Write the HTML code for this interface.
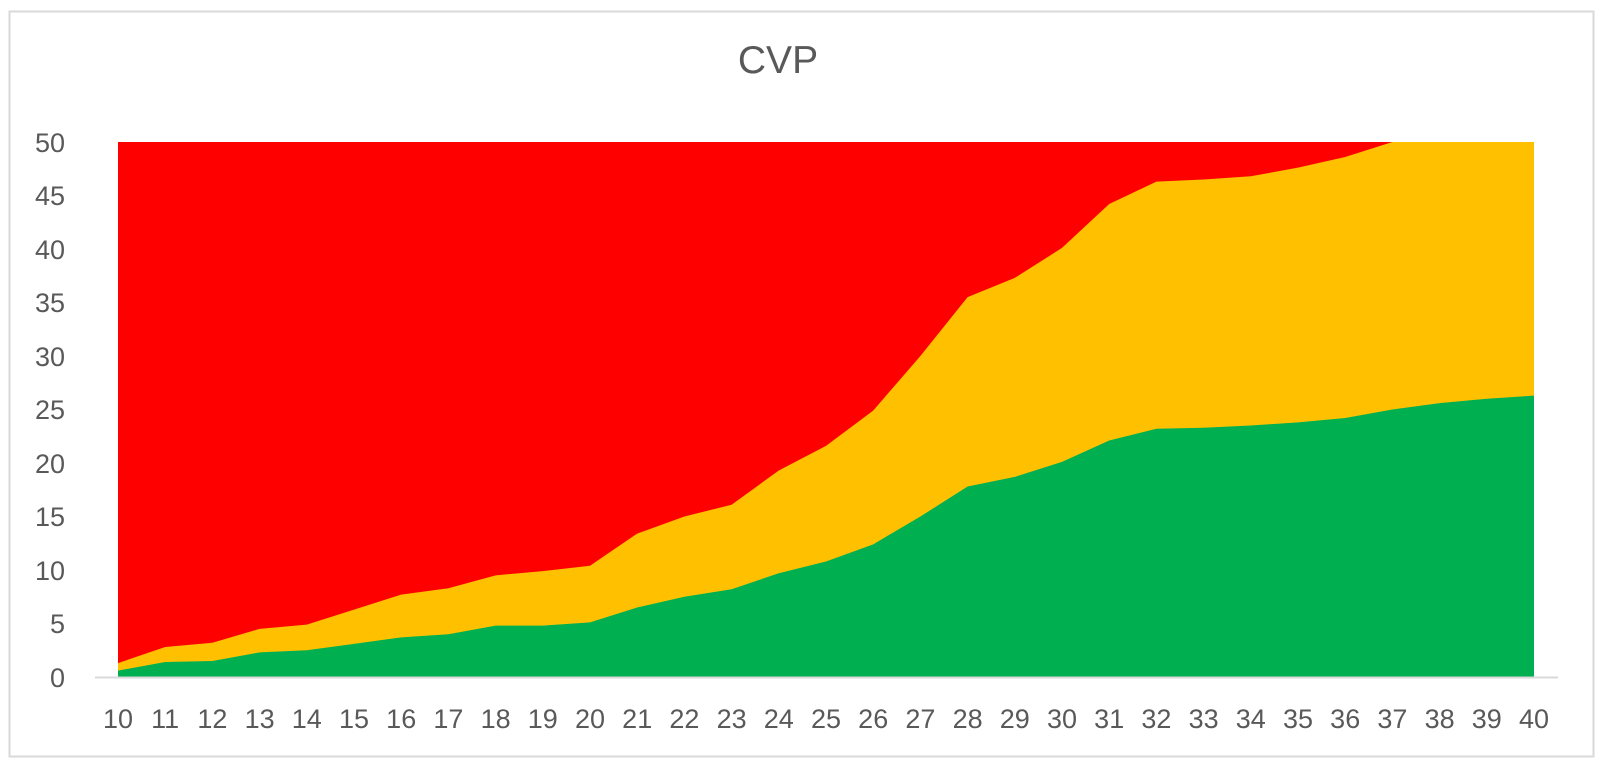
<!DOCTYPE html>
<html><head><meta charset="utf-8"><style>
html,body{margin:0;padding:0;background:#fff;}
svg{display:block;}
text{font-family:"Liberation Sans",sans-serif;}
</style></head><body>
<svg width="1602" height="767" viewBox="0 0 1602 767" xmlns="http://www.w3.org/2000/svg">
<rect x="9.5" y="11.5" width="1584" height="745" fill="#fff" stroke="#d9d9d9" stroke-width="2"/>
<text x="778" y="73" font-size="39" fill="#595959" text-anchor="middle">CVP</text>
<g transform="translate(118,677) scale(47.2,-10.7)">
<rect x="0" y="0" width="30" height="50" fill="#ff0000"/>
<polygon fill="#ffc000" points="0,0 0,1.3 1,2.8 2,3.2 3,4.5 4,4.9 5,6.3 6,7.7 7,8.3 8,9.5 9,9.9 10,10.4 11,13.4 12,15.0 13,16.1 14,19.3 15,21.6 16,24.9 17,30.0 18,35.5 19,37.3 20,40.1 21,44.2 22,46.3 23,46.5 24,46.8 25,47.6 26,48.6 27,50 28,50 29,50 30,50 30,0"/>
<polygon fill="#00b050" points="0,0 0,0.6 1,1.4 2,1.5 3,2.3 4,2.5 5,3.1 6,3.7 7,4.0 8,4.8 9,4.8 10,5.1 11,6.5 12,7.5 13,8.2 14,9.7 15,10.8 16,12.4 17,15.0 18,17.8 19,18.7 20,20.1 21,22.1 22,23.2 23,23.3 24,23.5 25,23.8 26,24.2 27,25.0 28,25.6 29,26.0 30,26.3 30,0"/>
</g>
<line x1="95" y1="677.5" x2="1558" y2="677.5" stroke="#d9d9d9" stroke-width="2"/>
<g font-size="27" fill="#595959" text-anchor="end">
<text x="65" y="687">0</text>
<text x="65" y="633">5</text>
<text x="65" y="580">10</text>
<text x="65" y="526">15</text>
<text x="65" y="473">20</text>
<text x="65" y="419">25</text>
<text x="65" y="366">30</text>
<text x="65" y="312">35</text>
<text x="65" y="259">40</text>
<text x="65" y="205">45</text>
<text x="65" y="152">50</text>
</g>
<g font-size="27" fill="#595959" text-anchor="middle">
<text x="118" y="728">10</text><text x="165.2" y="728">11</text><text x="212.4" y="728">12</text><text x="259.6" y="728">13</text><text x="306.8" y="728">14</text><text x="354" y="728">15</text><text x="401.2" y="728">16</text><text x="448.4" y="728">17</text><text x="495.6" y="728">18</text><text x="542.8" y="728">19</text><text x="590" y="728">20</text><text x="637.2" y="728">21</text><text x="684.4" y="728">22</text><text x="731.6" y="728">23</text><text x="778.8" y="728">24</text><text x="826" y="728">25</text><text x="873.2" y="728">26</text><text x="920.4" y="728">27</text><text x="967.6" y="728">28</text><text x="1014.8" y="728">29</text><text x="1062" y="728">30</text><text x="1109.2" y="728">31</text><text x="1156.4" y="728">32</text><text x="1203.6" y="728">33</text><text x="1250.8" y="728">34</text><text x="1298" y="728">35</text><text x="1345.2" y="728">36</text><text x="1392.4" y="728">37</text><text x="1439.6" y="728">38</text><text x="1486.8" y="728">39</text><text x="1534" y="728">40</text>
</g>
</svg>
</body></html>
